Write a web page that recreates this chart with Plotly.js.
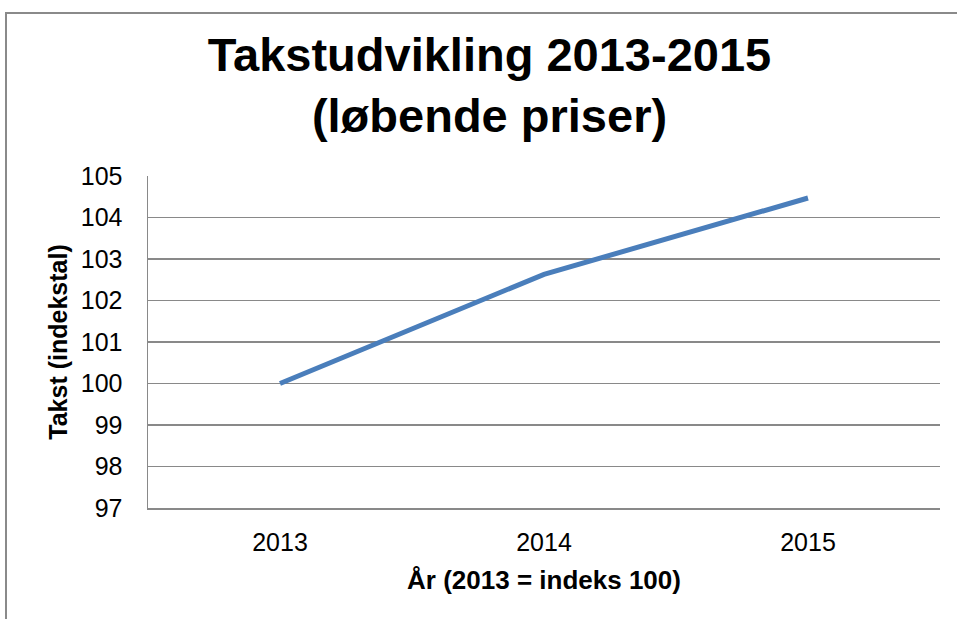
<!DOCTYPE html>
<html>
<head>
<meta charset="utf-8">
<script src="https://cdn.plot.ly/plotly-3.0.1.min.js"></script>
<style>
  html, body { margin: 0; padding: 0; background: #fff; }
  #chart { width: 957px; height: 619px; position: absolute; left: 0; top: 0; }
  #frame { position: absolute; left: 5px; top: 12px; width: 1000px; height: 700px;
           border-left: 2px solid #8a8a8a; border-top: 2px solid #8a8a8a; pointer-events: none; }
</style>
</head>
<body>
<div id="chart"></div>
<div id="frame"></div>
<script>
const years = ['2013', '2014', '2015'];
const takst = [100, 102.63, 104.47];
const yTicks = [97, 98, 99, 100, 101, 102, 103, 104, 105];

const font = 'Arial, "Liberation Sans", sans-serif';

Plotly.newPlot('chart', [{
  type: 'scatter',
  mode: 'lines',
  x: years,
  y: takst,
  line: { color: '#4a7ebb', width: 5 },
  hoverinfo: 'skip'
}], {
  width: 957,
  height: 619,
  margin: { l: 148, r: 17, t: 176, b: 111 },
  paper_bgcolor: '#ffffff',
  plot_bgcolor: '#ffffff',
  showlegend: false,
  title: {
    text: '<b>Takstudvikling 2013-2015<br>(løbende priser)</b>',
    font: { family: font, size: 47, color: '#000' },
    x: 0.5115, xanchor: 'center', xref: 'container',
    y: 0.885, yanchor: 'top', yref: 'container'
  },
  xaxis: {
    type: 'category',
    range: [-0.5, 2.5],
    showgrid: false,
    showline: true,
    linecolor: '#898989',
    linewidth: 1.5,
    ticks: '',
    ticklabelstandoff: 11,
    tickfont: { family: font, size: 25, color: '#000' },
    title: { text: '<b>År (2013 = indeks 100)</b>', font: { family: font, size: 26, color: '#000' }, standoff: 16 },
    zeroline: false,
    fixedrange: true
  },
  yaxis: {
    range: [97, 105],
    tickvals: yTicks,
    ticktext: yTicks.map(String),
    showgrid: true,
    gridcolor: '#898989',
    gridwidth: 1.5,
    showline: true,
    linecolor: '#898989',
    linewidth: 1.5,
    ticks: '',
    ticklabelstandoff: 19,
    tickfont: { family: font, size: 25, color: '#000' },
    title: { text: '<b>Takst (indekstal)</b>', font: { family: font, size: 25, color: '#000' }, standoff: 6 },
    zeroline: false,
    fixedrange: true
  }
}, { displayModeBar: false, staticPlot: true });
</script>
</body>
</html>
